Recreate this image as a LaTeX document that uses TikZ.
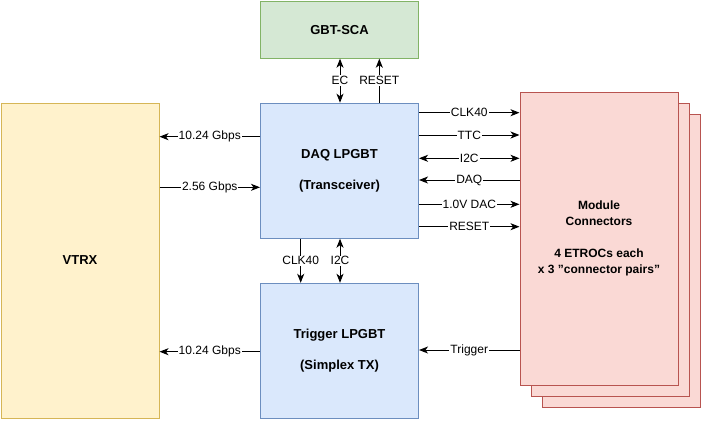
\documentclass[tikz,border=0pt]{standalone}
\usepackage{fontspec}
\setmainfont{Liberation Sans}
\usetikzlibrary{arrows.meta}
\definecolor{scafill}{HTML}{D5E8D4}
\definecolor{scaline}{HTML}{82B366}
\definecolor{gbtfill}{HTML}{DAE8FC}
\definecolor{gbtline}{HTML}{6C8EBF}
\definecolor{vtrxfill}{HTML}{FFF2CC}
\definecolor{vtrxline}{HTML}{D6B656}
\definecolor{modfill}{HTML}{FAD9D5}
\definecolor{modline}{HTML}{B85450}
\def\sigdraw{\draw[line width=1pt]}
\def\gbtnode{\node[draw=gbtline,fill=gbtfill,line width=1pt,minimum width=158pt,minimum height=135pt,align=center,font=\bfseries\fontsize{13}{15.6}\selectfont]}
\def\modnode{\node[draw=modline,fill=modfill,line width=1pt,minimum width=158pt,minimum height=293pt,align=center,font=\bfseries\fontsize{12}{16}\selectfont]}

\begin{document}
\begin{tikzpicture}[x=1pt,y=-1pt,>={Stealth[length=9pt,width=7pt,inset=2.5pt]},
  lbl/.style={fill=white,inner sep=1pt,font=\fontsize{12}{14}\selectfont}]
\useasboundingbox (0,0) rectangle (703,421);
% boxes
\node[draw=scaline,fill=scafill,line width=1pt,minimum width=158pt,minimum height=57pt,font=\bfseries\fontsize{13}{15.6}\selectfont] (sca) at (339.5,29.7) {GBT-SCA};
\gbtnode (daq) at (339.5,170.7) {DAQ LPGBT\\[15pt](Transceiver)};
\gbtnode (trig) at (339.5,350.8) {Trigger LPGBT\\[15pt](Simplex TX)};
\node[draw=vtrxline,fill=vtrxfill,line width=1pt,minimum width=158pt,minimum height=315pt,font=\bfseries\fontsize{13}{15.6}\selectfont] (vtrx) at (80,260.5) {VTRX};
\modnode (modc) at (621.3,261) {};
\modnode (modb) at (610.2,249.5) {};
\modnode (moda) at (599,238.5) {Module\\Connectors\\[16pt]4 ETROCs each\\x 3 "connector pairs"};
% sca links
\sigdraw[<->] (daq.north -| 340,0) -- node[lbl]{EC} (sca.south -| 340,0);
\sigdraw[->] (daq.north -| 379.3,0) -- node[lbl]{RESET} (sca.south -| 379.3,0);
% daq to trigger
\sigdraw[->] (daq.south -| 300.7,0) -- node[lbl]{CLK40} (trig.north -| 300.7,0);
\sigdraw[<->] (daq.south -| 340,0) -- node[lbl]{I2C} (trig.north -| 340,0);
% vtrx links
\sigdraw[->] (daq.west |- 0,136.7) -- node[lbl]{10.24 Gbps} (vtrx.east |- 0,136.7);
\sigdraw[->] (vtrx.east |- 0,187.3) -- node[lbl]{2.56 Gbps} (daq.west |- 0,187.3);
\sigdraw[->] (trig.west |- 0,351.7) -- node[lbl]{10.24 Gbps} (vtrx.east |- 0,351.7);
% module links
\sigdraw[->] (daq.east |- 0,112.7) -- node[lbl]{CLK40} (moda.west |- 0,112.7);
\sigdraw[->] (daq.east |- 0,135) -- node[lbl]{TTC} (moda.west |- 0,135);
\sigdraw[<->] (daq.east |- 0,158.3) -- node[lbl]{I2C} (moda.west |- 0,158.3);
\sigdraw[->] (moda.west |- 0,180) -- node[lbl]{DAQ} (daq.east |- 0,180);
\sigdraw[->] (daq.east |- 0,204.3) -- node[lbl]{1.0V DAC} (moda.west |- 0,204.3);
\sigdraw[->] (daq.east |- 0,226.7) -- node[lbl]{RESET} (moda.west |- 0,226.7);
\sigdraw[->] (moda.west |- 0,350) -- node[lbl]{Trigger} (trig.east |- 0,350);
\end{tikzpicture}
\end{document}
